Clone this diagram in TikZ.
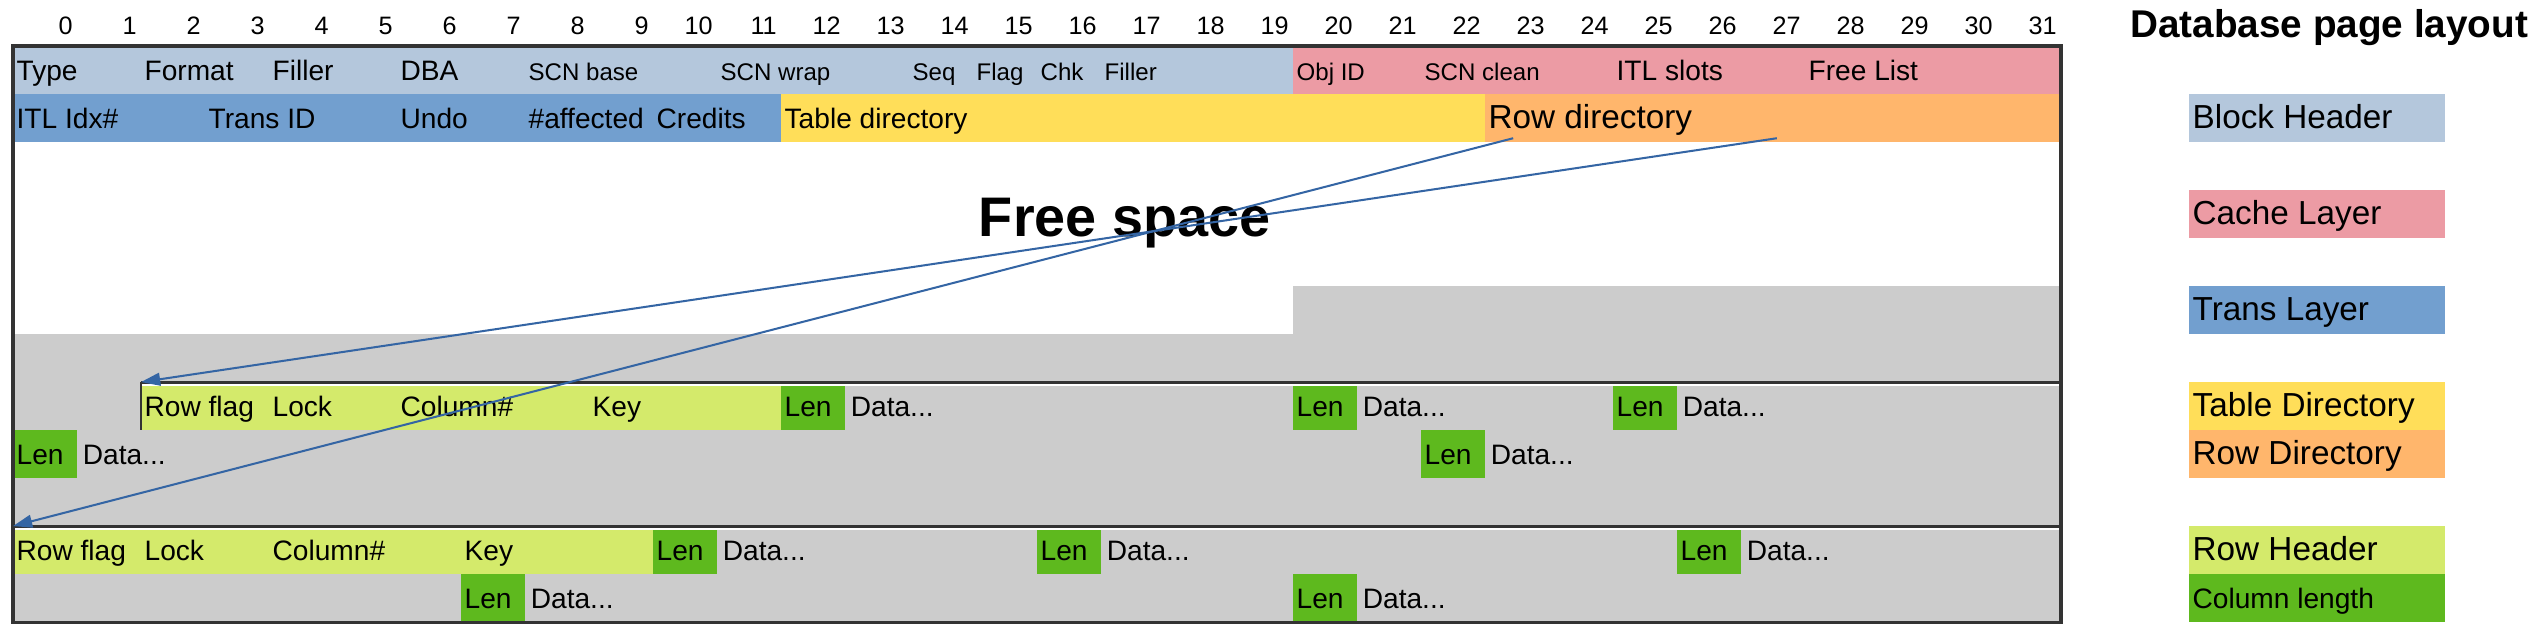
\documentclass[tikz,border=0pt]{standalone}
\usepackage{fontspec}
\setmainfont{Liberation Sans}
\usetikzlibrary{positioning,arrows.meta}
\definecolor{blkhdr}{RGB}{180,199,220}
\definecolor{cachelay}{RGB}{236,155,164}
\definecolor{translay}{RGB}{114,159,207}
\definecolor{tabdir}{RGB}{255,222,89}
\definecolor{rowdir}{RGB}{255,182,108}
\definecolor{rowhdr}{RGB}{212,234,107}
\definecolor{collen}{RGB}{94,185,30}
\definecolor{usedgray}{RGB}{204,204,204}
\definecolor{ptrblue}{RGB}{52,101,164}
\definecolor{framegray}{RGB}{51,51,51}
\newcommand{\fsn}{\fontsize{12.5}{14}\selectfont}
\newcommand{\fss}{\fontsize{10.7}{12}\selectfont}
\newcommand{\fsl}{\fontsize{14.8}{17}\selectfont}
\newcommand{\fsnum}{\fontsize{11.2}{13}\selectfont}
\tikzset{
  lbl/.style={anchor=west,inner xsep=0.05cm,inner ysep=0pt,text height=1.82ex,text depth=0pt,font=\fsn},
  lensq/.style={fill=collen,anchor=south west,minimum width=1cm,minimum height=0.75cm,
    inner xsep=0.05cm,inner ysep=0pt,text width=0.9cm,text height=1.82ex,text depth=0pt,align=left,font=\fsn},
  ptrarrow/.style={ptrblue,line width=0.9pt,-{Triangle[length=0.3cm,width=0.2cm]}}
}

\begin{document}
\begin{tikzpicture}
\useasboundingbox (-0.203,-0.03) rectangle (39.484,9.97);
% byte offsets
\foreach \n in {0,...,31}{
\node[font=\fsnum,anchor=east,inner sep=0pt] (num\n) at (\n+0.94,9.57) {\n};
}
% block header, cache layer, trans layer, directories
\fill[blkhdr] (0,8.5) rectangle (20,9.25);
\fill[cachelay] (20,8.5) rectangle (32,9.25);
\fill[translay] (0,7.75) rectangle (12,8.5);
\fill[tabdir] (12,7.75) rectangle (23,8.5);
\fill[rowdir] (23,7.75) rectangle (32,8.5);
\foreach \x/\t [count=\i] in {0/Type,2/Format,4/Filler,6/DBA,25/ITL slots,28/Free List}
\node[lbl] (bh\i) at (\x,8.875) {\t};
\foreach \x/\t [count=\i] in {8/SCN base,11/SCN wrap,14/Seq,15/Flag,16/Chk,17/Filler,20/Obj ID,22/SCN clean}
\node[lbl,font=\fss] (bs\i) at (\x,8.875) {\t};
\foreach \x/\t [count=\i] in {0/ITL Idx\#,3/Trans ID,6/Undo,8/\#affected,10/Credits,12/Table directory}
\node[lbl] (tr\i) at (\x,8.125) {\t};
\node[lbl,font=\fsl] (rdlbl) at (23,8.125) {Row directory};
% free space and used rows
\node[font=\bfseries\fontsize{24.8}{28}\selectfont,text height=1.4ex,text depth=0pt,inner sep=0pt] (free) at (17.37,6.4) {Free space};
\fill[usedgray] (0,0.25) rectangle (20,4.75);
\fill[usedgray] (20,0.25) rectangle (32,5.5);
\fill[rowhdr] (2,3.25) rectangle (12,4);
\fill[rowhdr] (0,1) rectangle (10,1.75);
\foreach \x/\t [count=\i] in {2/Row flag,4/Lock,6/Column\#,9/Key}
\node[lbl] (ra\i) at (\x,3.625) {\t};
\foreach \x/\t [count=\i] in {0/Row flag,2/Lock,4/Column\#,7/Key}
\node[lbl] (rb\i) at (\x,1.375) {\t};
\foreach \x/\y [count=\i] in {12/3.25,20/3.25,25/3.25,0/2.5,22/2.5,10/1,16/1,26/1,7/0.25,20/0.25}{
\node[lensq] (len\i) at (\x,\y) {Len};
\node[lbl,right=0.02cm of len\i] (data\i) {Data...};
}
\draw[framegray,line width=1.3pt] (2,4) -- (32,4);
\draw[white,line width=0.5pt] (2.02,3.955) -- (32,3.955);
\draw[framegray,line width=0.7pt] (2,4) -- (2,3.25);
\draw[framegray,line width=1.3pt] (0,1.75) -- (32,1.75);
\draw[white,line width=0.5pt] (0,1.705) -- (32,1.705);
\draw[framegray,line width=1.4pt] (0,0.25) rectangle (32,9.25);
% row directory pointers
\coordinate (rd1) at (23.44,7.81);
\coordinate (rd2) at (27.56,7.81);
\coordinate (rec1) at (2,4);
\coordinate (rec2) at (0,1.75);
\draw[ptrarrow] (rd2) -- (rec1);
\draw[ptrarrow] (rd1) -- (rec2);
% legend
\node[font=\bfseries\fontsize{17.2}{20}\selectfont,text height=1.4ex,text depth=0pt,inner sep=0pt] (title) at (36.19,9.52) {Database page layout};
\foreach \y/\c/\t [count=\i] in {7.75/blkhdr/Block Header,6.25/cachelay/Cache Layer,4.75/translay/Trans Layer,3.25/tabdir/Table Directory,2.5/rowdir/Row Directory,1/rowhdr/Row Header}{
\fill[\c] (34,\y) rectangle (38,\y+0.75);
\node[lbl,font=\fsl] (leg\i) at (34,\y+0.375) {\t};
}
\fill[collen] (34,0.25) rectangle (38,1);
\node[lbl] (leg7) at (34,0.625) {Column length};
\end{tikzpicture}
\end{document}
